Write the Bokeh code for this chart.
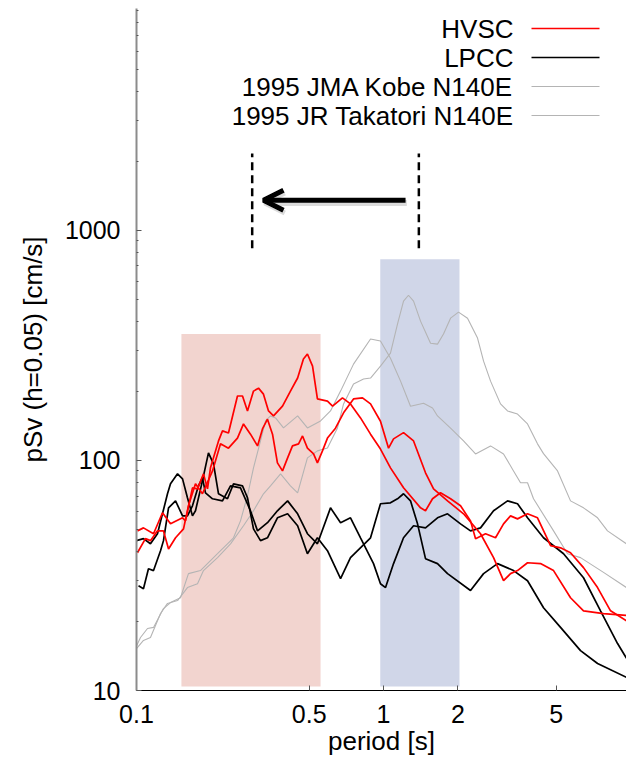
from bokeh.plotting import figure
from bokeh.models import FixedTicker, Label, Arrow, OpenHead
from bokeh.embed import file_html
from bokeh.resources import INLINE

FONT = "Liberation Sans"

# ---------------- data (period [s], pSv [cm/s]) ----------------
hvsc1_t = [0.1009, 0.1067, 0.1172, 0.1274, 0.1373, 0.1536, 0.1579, 0.1685, 0.1766, 0.1867,
           0.1938, 0.1993, 0.2148, 0.2229, 0.2357, 0.2563, 0.2686, 0.2814, 0.2976, 0.3118,
           0.3266, 0.3423, 0.3587, 0.390, 0.420, 0.449, 0.474, 0.492, 0.516, 0.540,
           0.593, 0.622, 0.682, 0.735, 0.807, 0.886, 0.972, 1.067, 1.205, 1.412,
           1.479, 1.579, 1.701, 1.868, 2.05, 2.25, 2.358, 2.588, 2.841, 3.061,
           3.267, 3.487, 3.828, 4.201, 4.745, 5.207, 5.715, 6.451, 7.353, 8.30, 9.63]
hvsc1_v = [49.4, 50.9, 48.0, 59.2, 53.0, 56.3, 54.6, 76.0, 75.2, 87.4,
           75.2, 92.8, 121.5, 134.3, 131.6, 190.5, 190.5, 164, 200, 206,
           194, 164, 156, 172, 200, 228, 276, 290, 257, 185,
           181, 172, 187, 176, 153, 130, 112, 92.8, 76.0, 62.2,
           60.4, 68.1, 72.3, 68.1, 63.5, 54.6, 45.7, 48.0, 46.1, 53.0,
           57.4, 55.7, 58.6, 56.3, 42.6, 41.7, 39.7, 34.2, 28.0, 22.2, 20.1]

hvsc2_t = [0.1009, 0.1087, 0.1139, 0.1216, 0.1286, 0.1348, 0.1439, 0.155, 0.1623, 0.1733,
           0.1849, 0.2031, 0.2188, 0.2357, 0.2563, 0.2711, 0.2893, 0.309, 0.3236, 0.339,
           0.3553, 0.372, 0.390, 0.409, 0.428, 0.453, 0.470, 0.492, 0.521, 0.540,
           0.566, 0.593, 0.639, 0.689, 0.756, 0.822, 0.886, 0.972, 1.048, 1.098,
           1.205, 1.323, 1.479, 1.594, 1.816, 2.108, 2.47, 2.789, 3.061, 3.267,
           3.487, 3.828, 4.32, 4.879, 5.715, 6.451, 7.773, 9.63]
hvsc2_v = [39.7, 45.7, 44.8, 49.4, 49.4, 41.2, 46.1, 50.4, 63.5, 79.1,
           71.6, 90.0, 118, 113, 125, 144, 130, 115.6, 137, 151,
           130, 97.5, 90, 102.5, 115.6, 118, 127.7, 113, 106.7, 97.5,
           110, 125, 138, 161, 185, 187, 176, 148, 113, 124,
           132, 121.5, 88.3, 75.2, 66.7, 58.6, 48.0, 37.8, 30.0, 32.2,
           33.2, 35.9, 35.6, 33.2, 25.3, 22.2, 21.6, 21.2]

lpcc1_t = [0.1, 0.1067, 0.1139, 0.1216, 0.1274, 0.1335, 0.1373, 0.1466, 0.1536, 0.1608,
           0.1685, 0.1733, 0.1849, 0.1956, 0.205, 0.2148, 0.2335, 0.247, 0.2686, 0.2814,
           0.2976, 0.3177, 0.339, 0.372, 0.409, 0.449, 0.492, 0.540, 0.593, 0.670,
           0.735, 0.886, 0.972, 1.067, 1.139, 1.205, 1.286, 1.373, 1.479, 1.654,
           1.816, 2.25, 2.541, 2.894, 3.36, 3.828, 4.443, 5.207, 6.274, 7.353, 9.63]
lpcc1_v = [44.8, 45.7, 43.4, 48.0, 58.6, 71.6, 79.1, 87.4, 83.1, 68.8,
           57.4, 60.4, 81.5, 107.8, 96.6, 71.6, 68.1, 79.1, 77.5, 68.8,
           50.4, 44.8, 46.1, 56.3, 58.6, 52.0, 39.3, 46.1, 40.5, 30.6,
           37.8, 46.1, 64.8, 65.4, 68.1, 71.6, 66.7, 53.0, 37.4, 35.6,
           32.2, 27.2, 32.2, 35.6, 33.2, 30.0, 22.9, 18.8, 14.9, 13.1, 11.4]

lpcc2_t = [0.1019, 0.1067, 0.1118, 0.1172, 0.1251, 0.1286, 0.1348, 0.1439, 0.1536, 0.1608,
           0.1685, 0.1782, 0.1849, 0.1902, 0.2031, 0.2229, 0.2402, 0.2636, 0.2893, 0.309,
           0.339, 0.372, 0.409, 0.449, 0.492, 0.540, 0.610, 0.670, 0.735, 0.807,
           0.911, 0.972, 1.019, 1.098, 1.205, 1.323, 1.479, 1.654, 1.816, 2.05,
           2.25, 2.47, 2.789, 3.177, 3.487, 3.828, 4.443, 5.355, 6.451, 7.559, 8.86, 9.63]
lpcc2_v = [28.5, 27.7, 33.8, 33.2, 40.5, 44.8, 62.2, 66.7, 57.4, 57.4,
           63.5, 77.5, 84.0, 72.3, 68.1, 66.7, 77.5, 76.0, 60.4, 49.4,
           53.6, 60.4, 66.7, 58.6, 48.0, 43.4, 62.2, 53.6, 56.3, 46.1,
           35.6, 29.1, 28.0, 35.6, 46.1, 52.0, 50.9, 56.3, 58.6, 53.0,
           49.4, 50.9, 60.4, 66.7, 64.8, 56.3, 46.1, 39.3, 30.9, 22.2, 16.0, 13.8]

kobe_t = [0.1, 0.1038, 0.1108, 0.1172, 0.1286, 0.1373, 0.1507, 0.1623, 0.1815, 0.1938,
          0.2128, 0.2335, 0.247, 0.2636, 0.2814, 0.2976, 0.3177, 0.333, 0.3487, 0.3655,
          0.3936, 0.449, 0.492, 0.556, 0.610, 0.670, 0.756, 0.886, 0.972, 1.067,
          1.172, 1.286, 1.452, 1.579, 1.654, 1.868, 2.108, 2.358, 2.712, 3.061,
          3.36, 3.586, 3.828, 4.048, 4.879, 5.559, 6.274, 7.773, 9.63]
kobe_v = [15.6, 17.0, 18.6, 18.8, 22.7, 24.1, 25.3, 32.2, 33.2, 35.6,
          39.3, 43.4, 46.1, 54.6, 70.2, 92.8, 121.5, 148.4, 156, 153,
          138.4, 156, 138.4, 148.4, 164, 200, 262, 337, 330, 278,
          221, 172, 177, 169, 156, 138, 121.5, 106.7, 115.6, 106.7,
          90, 79.9, 79.9, 68.1, 49.4, 39.3, 37.8, 32.6, 28.0]

takatori_t = [0.1, 0.1067, 0.1139, 0.1251, 0.1335, 0.1466, 0.1608, 0.1766, 0.1867, 0.2128,
              0.2402, 0.2711, 0.2976, 0.3266, 0.3487, 0.383, 0.420, 0.449, 0.492, 0.540,
              0.593, 0.651, 0.689, 0.756, 0.830, 0.886, 0.972, 1.067, 1.139, 1.205,
              1.262, 1.323, 1.412, 1.55, 1.654, 1.749, 1.868, 2.012, 2.188, 2.402,
              2.541, 2.712, 2.976, 3.177, 3.487, 3.828, 4.201, 4.443, 5.064, 5.715,
              6.451, 7.353, 8.068, 9.63]
takatori_v = [15.2, 16.5, 17.0, 21.6, 23.9, 24.6, 28.0, 29.1, 33.2, 37.8,
              43.4, 52.0, 60.4, 71.6, 77.5, 87.4, 77.5, 72.3, 102.5, 110,
              113.3, 138.4, 175.9, 214.7, 225.8, 228, 257, 292.7, 391, 492,
              522, 492, 403, 323, 320, 354, 415, 441, 415, 340,
              270, 221, 176, 164, 159, 144, 118, 107, 90, 66.7,
              62.2, 56.3, 49.4, 43.4]

series_names = ["HVSC", "LPCC", "1995 JMA Kobe N140E", "1995 JR Takatori N140E"]
series_colors = ["#ff0000", "#000000", "#b4b4b4", "#b4b4b4"]

# shaded period bands [left, right, bottom, top]
band_left = [0.152, 0.97]
band_right = [0.556, 2.03]
band_bottom = [10.4, 10.4]
band_top = [354, 748]
band_colors = ["#f2d4cf", "#d0d6e8"]

# period-shift marks
shift_x = [0.294, 1.39]
shift_y0 = [836, 836]
shift_y1 = [2158, 2158]
arrow_from = 1.228
arrow_to = 0.3266
arrow_level = 1349

x_ticks = [0.1, 0.5, 1, 2, 5]
y_ticks = [10, 100, 1000]
y_minor = [20, 30, 40, 50, 60, 70, 80, 90, 200, 300, 400, 500, 600, 700, 800, 900,
           2000, 3000, 4000, 5000, 6000, 7000, 8000, 9000]

# ---------------- figure ----------------
p = figure(width=626, height=758, x_axis_type="log", y_axis_type="log",
           x_range=(0.1, 9.63), y_range=(10, 9200),
           output_backend="svg", toolbar_location=None,
           min_border_left=136, min_border_right=0, min_border_top=8, min_border_bottom=68)
p.outline_line_color = None
p.grid.visible = False
p.background_fill_color = "white"
p.border_fill_color = "white"

p.quad(left=band_left, right=band_right, bottom=band_bottom, top=band_top,
       fill_color=band_colors, line_color=None)

p.line(kobe_t, kobe_v, line_color=series_colors[2], line_width=1.1)
p.line(takatori_t, takatori_v, line_color=series_colors[3], line_width=1.1)
p.line(lpcc1_t, lpcc1_v, line_color=series_colors[1], line_width=1.7)
p.line(lpcc2_t, lpcc2_v, line_color=series_colors[1], line_width=1.7)
p.line(hvsc1_t, hvsc1_v, line_color=series_colors[0], line_width=1.7)
p.line(hvsc2_t, hvsc2_v, line_color=series_colors[0], line_width=1.7)

p.segment(x0=shift_x, y0=shift_y0, x1=shift_x, y1=shift_y1,
          line_color="black", line_width=2.5, line_dash="8 5")

p.add_layout(Arrow(end=OpenHead(size=20, line_width=5, line_color="#999999", line_alpha=0.35),
                   x_start=arrow_from * 1.012, y_start=arrow_level * 0.975,
                   x_end=arrow_to * 1.012, y_end=arrow_level * 0.975,
                   line_width=6, line_color="#999999", line_alpha=0.35))
p.add_layout(Arrow(end=OpenHead(size=20, line_width=5, line_color="black"),
                   x_start=arrow_from, y_start=arrow_level, x_end=arrow_to, y_end=arrow_level,
                   line_width=5, line_color="black"))

# axes
xa = p.xaxis[0]
xa.ticker = FixedTicker(ticks=x_ticks, minor_ticks=[])
xa.major_label_overrides = {0.1: "0.1", 0.5: "0.5", 1: "1", 2: "2", 5: "5"}
xa.axis_label = "period [s]"
ya = p.yaxis[0]
ya.ticker = FixedTicker(ticks=y_ticks, minor_ticks=y_minor)
ya.major_label_overrides = {10: "10", 100: "100", 1000: "1000"}
ya.axis_label = "pSv (h=0.05) [cm/s]"

for ax in (xa, ya):
    ax.major_tick_in = 5
    ax.major_tick_out = 0
    ax.minor_tick_in = 2
    ax.minor_tick_out = 0
    ax.major_label_text_font = FONT
    ax.major_label_text_font_size = "25px"
    ax.major_label_text_color = "black"
    ax.axis_label_text_font = FONT
    ax.axis_label_text_font_size = "26px"
    ax.axis_label_text_font_style = "normal"
    ax.axis_label_text_color = "black"
xa.axis_line_color = "black"
xa.major_tick_line_color = "#555555"
ya.axis_line_color = "#8c8c8c"
ya.axis_line_width = 2
ya.major_tick_line_color = "#555555"
ya.minor_tick_line_color = "#555555"
xa.major_label_standoff = 14
xa.axis_label_standoff = 0
ya.major_label_standoff = 16
ya.axis_label_standoff = 14

# legend (text right-aligned, sample line to the right)
for i, (name, col) in enumerate(zip(series_names, series_colors)):
    sy = 662 - 29 * i
    p.add_layout(Label(x=377, y=sy, x_units="screen", y_units="screen", text=name,
                       text_align="right", text_baseline="middle",
                       text_font=FONT, text_font_size="26px", text_color="black"))
    p.add_layout(Arrow(end=None, x_start=395, y_start=sy, x_end=463, y_end=sy,
                       start_units="screen", end_units="screen",
                       line_color=col, line_width=1.3 if i < 2 else 1.0))

open("out.html", "w").write(file_html(p, INLINE))
